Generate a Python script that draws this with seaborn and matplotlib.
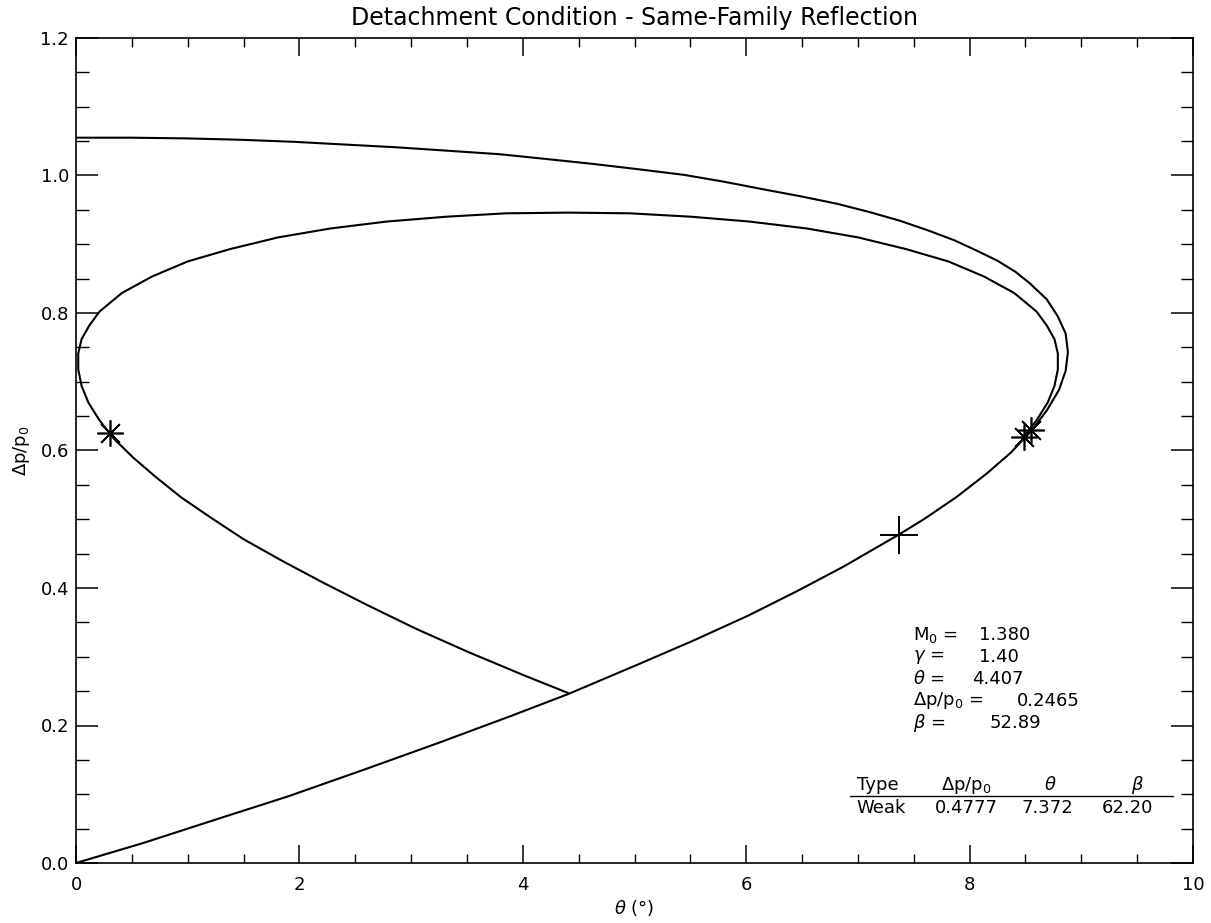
import matplotlib
matplotlib.use("Agg")
import matplotlib.pyplot as plt
import matplotlib.ticker as mticker
import seaborn as sns

# ---- data ----
# incident polar (upstream state, M0 = 1.38)
theta_inc = [0.00, 0.60, 1.19, 1.90, 2.60, 3.25, 3.88, 4.41, 5.02, 5.52,
             6.02, 6.45, 6.87, 7.37, 7.59, 7.88, 8.15, 8.37, 8.55, 8.69,
             8.80, 8.86, 8.88, 8.86, 8.79, 8.69, 8.54, 8.41, 8.25, 8.06,
             7.86, 7.63, 7.38, 7.10, 6.81, 6.48, 6.15, 5.80, 5.44, 5.04,
             4.62, 4.21, 3.79, 3.33, 2.87, 2.41, 1.95, 1.47, 0.98, 0.49, 0.00]
dp_inc = [0.000, 0.029, 0.060, 0.097, 0.137, 0.175, 0.213, 0.246, 0.288, 0.323,
          0.360, 0.395, 0.431, 0.478, 0.500, 0.532, 0.566, 0.597, 0.628, 0.658,
          0.688, 0.716, 0.743, 0.770, 0.795, 0.820, 0.843, 0.860, 0.876, 0.891,
          0.906, 0.920, 0.934, 0.947, 0.959, 0.970, 0.980, 0.991, 1.001, 1.009,
          1.017, 1.024, 1.031, 1.036, 1.041, 1.045, 1.049, 1.052, 1.054, 1.055, 1.055]

# reflected polar (from the state behind the first shock)
theta_ref = [4.41, 4.01, 3.51, 3.04, 2.61, 2.21, 1.84, 1.50, 1.21, 0.94,
             0.71, 0.51, 0.34, 0.21, 0.11, 0.05, 0.02, 0.02, 0.05, 0.12,
             0.21, 0.41, 0.68, 1.00, 1.38, 1.81, 2.28, 2.78, 3.31, 3.85,
             4.41, 4.96, 5.51, 6.03, 6.54, 7.00, 7.43, 7.81, 8.13, 8.40,
             8.60, 8.69, 8.76, 8.79, 8.79, 8.76, 8.70, 8.60, 8.47]
dp_ref = [0.247, 0.273, 0.307, 0.341, 0.375, 0.408, 0.440, 0.471, 0.502, 0.532,
          0.562, 0.590, 0.617, 0.644, 0.670, 0.694, 0.718, 0.741, 0.762, 0.782,
          0.802, 0.829, 0.853, 0.875, 0.893, 0.910, 0.923, 0.933, 0.940, 0.945,
          0.946, 0.945, 0.940, 0.933, 0.923, 0.910, 0.893, 0.875, 0.853, 0.829,
          0.802, 0.782, 0.762, 0.741, 0.718, 0.694, 0.670, 0.644, 0.617]

# detachment points (asterisks) and weak solution (plus)
theta_star = [0.30, 8.49, 8.55]
dp_star = [0.626, 0.619, 0.630]
theta_weak = [7.372]
dp_weak = [0.4777]

# annotation values
params = [("M$_0$ =", "1.380"), (r"$\gamma$ =", "1.40"), (r"$\theta$ =", "4.407"),
          (r"$\Delta$p/p$_0$ =", "0.2465"), (r"$\beta$ =", "52.89")]
value_x = [8.08, 8.08, 8.02, 8.42, 8.18]
table_head = ["Type", r"$\Delta$p/p$_0$", r"$\theta$", r"$\beta$"]
table_row = ["Weak", "0.4777", "7.372", "62.20"]

# ---- figure ----
sns.set_theme(style="ticks")
plt.rcParams["font.family"] = ["DejaVu Sans"]
plt.rcParams["mathtext.fontset"] = "dejavusans"
plt.rcParams["text.color"] = "black"
plt.rcParams["axes.labelcolor"] = "black"
plt.rcParams["axes.titlecolor"] = "black"

fig = plt.figure(figsize=(12.11, 9.23), dpi=100)
ax = fig.add_axes([76 / 1211, 60 / 923, 1117 / 1211, 825 / 923])

sns.lineplot(x=theta_inc, y=dp_inc, sort=False, estimator=None, ax=ax,
             color="black", lw=1.5)
sns.lineplot(x=theta_ref, y=dp_ref, sort=False, estimator=None, ax=ax,
             color="black", lw=1.5)
ax.plot(theta_star, dp_star, ls="none", marker=(8, 2, 0), ms=19,
        mec="black", mew=1.2)
ax.plot(theta_weak, dp_weak, ls="none", marker="+", ms=27,
        mec="black", mew=1.4)

ax.set_xlim(0, 10)
ax.set_ylim(0, 1.2)
ax.xaxis.set_major_locator(mticker.MultipleLocator(2))
ax.xaxis.set_minor_locator(mticker.MultipleLocator(0.5))
ax.yaxis.set_major_locator(mticker.MultipleLocator(0.2))
ax.yaxis.set_minor_locator(mticker.MultipleLocator(0.05))
ax.xaxis.set_major_formatter(mticker.FormatStrFormatter("%d"))
ax.yaxis.set_major_formatter(mticker.FormatStrFormatter("%.1f"))

ax.tick_params(axis="both", which="both", direction="in", top=True, right=True,
               colors="black", labelsize=13)
ax.tick_params(axis="x", which="major", length=13, width=1.1, pad=9)
ax.tick_params(axis="x", which="minor", length=6.5, width=1.0)
ax.tick_params(axis="y", which="major", length=16, width=1.1, pad=5)
ax.tick_params(axis="y", which="minor", length=9, width=1.0)
for sp in ax.spines.values():
    sp.set_visible(True)
    sp.set_color("black")
    sp.set_linewidth(1.2)

ax.set_title("Detachment Condition - Same-Family Reflection", fontsize=17,
             pad=9)
ax.set_xlabel(r"$\theta$ (°)", fontsize=13, labelpad=3)
ax.set_ylabel(r"$\Delta$p/p$_0$", fontsize=13, labelpad=6)

# parameter block
y0 = 0.332
for i, (lab, val) in enumerate(params):
    yy = y0 - i * 0.032
    ax.text(7.49, yy, lab, fontsize=13, va="center", ha="left")
    ax.text(value_x[i], yy, val, fontsize=13, va="center", ha="left")

# result table
head_x = [6.99, 7.97, 8.72, 9.50]
row_x = [6.99, 7.97, 8.70, 9.41]
for i, h in enumerate(table_head):
    ax.text(head_x[i], 0.113, h, fontsize=13, va="center",
            ha="left" if i == 0 else "center")
for i, v in enumerate(table_row):
    ax.text(row_x[i], 0.080, v, fontsize=13, va="center",
            ha="left" if i == 0 else "center")
ax.plot([6.93, 9.82], [0.097, 0.097], color="black", lw=1.0)

fig.savefig("out.png", dpi=100)
